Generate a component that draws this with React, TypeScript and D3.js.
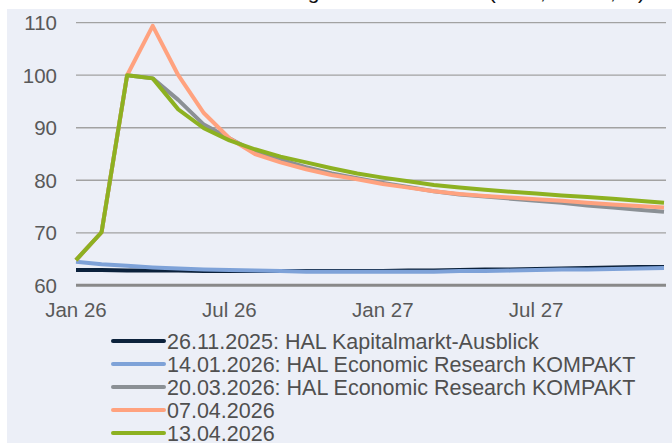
import * as d3 from 'd3'

const months = [
  'Jan 26', 'Feb 26', 'Mar 26', 'Apr 26', 'May 26', 'Jun 26', 'Jul 26', 'Aug 26', 'Sep 26', 'Oct 26', 'Nov 26', 'Dec 26',
  'Jan 27', 'Feb 27', 'Mar 27', 'Apr 27', 'May 27', 'Jun 27', 'Jul 27', 'Aug 27', 'Sep 27', 'Oct 27', 'Nov 27', 'Dec 27'
]
const xTickLabels = ['Jan 26', 'Jul 26', 'Jan 27', 'Jul 27']
const yTicks = [60, 70, 80, 90, 100, 110]

const kapitalmarkt = [62.9, 62.9, 62.8, 62.8, 62.8, 62.7, 62.7, 62.7, 62.7, 62.7, 62.7, 62.7, 62.7, 62.8, 62.8, 62.9, 63.0, 63.0, 63.1, 63.2, 63.3, 63.4, 63.5, 63.5]
const kompaktJan = [64.5, 64.0, 63.7, 63.4, 63.2, 63.0, 62.9, 62.8, 62.7, 62.6, 62.6, 62.6, 62.6, 62.6, 62.6, 62.7, 62.7, 62.8, 62.9, 63.0, 63.0, 63.1, 63.2, 63.3]
const kompaktMar = [64.8, 70.1, 100, 99.4, 95.3, 90.6, 88.0, 85.4, 83.9, 82.5, 81.3, 80.4, 79.5, 78.7, 77.9, 77.3, 76.9, 76.5, 76.1, 75.7, 75.2, 74.8, 74.4, 74.0]
const april07 = [64.8, 70.1, 100, 109.4, 100, 92.8, 88.0, 85.0, 83.4, 82.1, 81.0, 80.2, 79.3, 78.6, 77.9, 77.4, 77.0, 76.7, 76.4, 76.1, 75.7, 75.4, 75.1, 74.8]
const april13 = [64.8, 70.1, 100, 99.4, 93.5, 89.9, 87.6, 85.9, 84.5, 83.4, 82.3, 81.3, 80.5, 79.8, 79.1, 78.6, 78.2, 77.8, 77.5, 77.1, 76.8, 76.5, 76.1, 75.7]

const series = [
  { name: '26.11.2025: HAL Kapitalmarkt-Ausblick', values: kapitalmarkt, color: '#0c223c' },
  { name: '14.01.2026: HAL Economic Research KOMPAKT', values: kompaktJan, color: '#7ea2d8' },
  { name: '20.03.2026: HAL Economic Research KOMPAKT', values: kompaktMar, color: '#8b9095' },
  { name: '07.04.2026', values: april07, color: '#ffa27f' },
  { name: '13.04.2026', values: april13, color: '#8db121' }
]

const W = 672
const H = 443
const font = '"Liberation Sans", Arial, sans-serif'

export default function App() {
  const x = d3.scalePoint<string>().domain(months).range([76, 664])
  const y = d3.scaleLinear().domain([60, 110]).range([285.3, 22.7])

  const line = d3.line<number>()
    .x((_, i) => x(months[i]) as number)
    .y(d => y(d))

  const legendX = 113
  const legendY0 = 341
  const legendStep = 23

  return (
    <svg width={W} height={H} style={{ position: 'absolute', left: 0, top: 0 }} fontFamily={font}>
      <rect x={0} y={0} width={W} height={H} fill="#ffffff" />
      {/* title, only its descenders survive the crop */}
      <text x={645} y={-1} textAnchor="end" fontSize={21} fill="#111">
        Entwicklung Rohölsorte Brent (USD, Monat, Ø)
      </text>
      <rect x={7} y={9} width={W - 7} height={H - 9} fill="#eceff7" />

      {/* grid */}
      {yTicks.filter(t => t !== 60).map(t => (
        <line key={t} x1={76} x2={666} y1={y(t)} y2={y(t)} stroke="#a2a2a2" strokeWidth={1.3} />
      ))}
      <line x1={76} x2={666} y1={y(60)} y2={y(60)} stroke="#898989" strokeWidth={3} />

      {yTicks.map(t => (
        <text key={t} x={57} y={y(t)} dy="0.36em" textAnchor="end" fontSize={20.5} fill="#595959">
          {t}
        </text>
      ))}
      {xTickLabels.map(m => (
        <text key={m} x={x(m)} y={317} textAnchor="middle" fontSize={20.5} fill="#595959">
          {m}
        </text>
      ))}

      {series.map(s => (
        <path key={s.name} d={line(s.values) ?? ''} fill="none" stroke={s.color}
          strokeWidth={4} strokeLinejoin="round" />
      ))}

      {series.map((s, i) => (
        <g key={s.name} transform={`translate(${legendX}, ${legendY0 + i * legendStep})`}>
          <line x1={0} x2={51} y1={0} y2={0} stroke={s.color} strokeWidth={4} strokeLinecap="round" />
          <text x={54} y={0} dy="0.36em" fontSize={21.5} fill="#505050">{s.name}</text>
        </g>
      ))}
    </svg>
  )
}
